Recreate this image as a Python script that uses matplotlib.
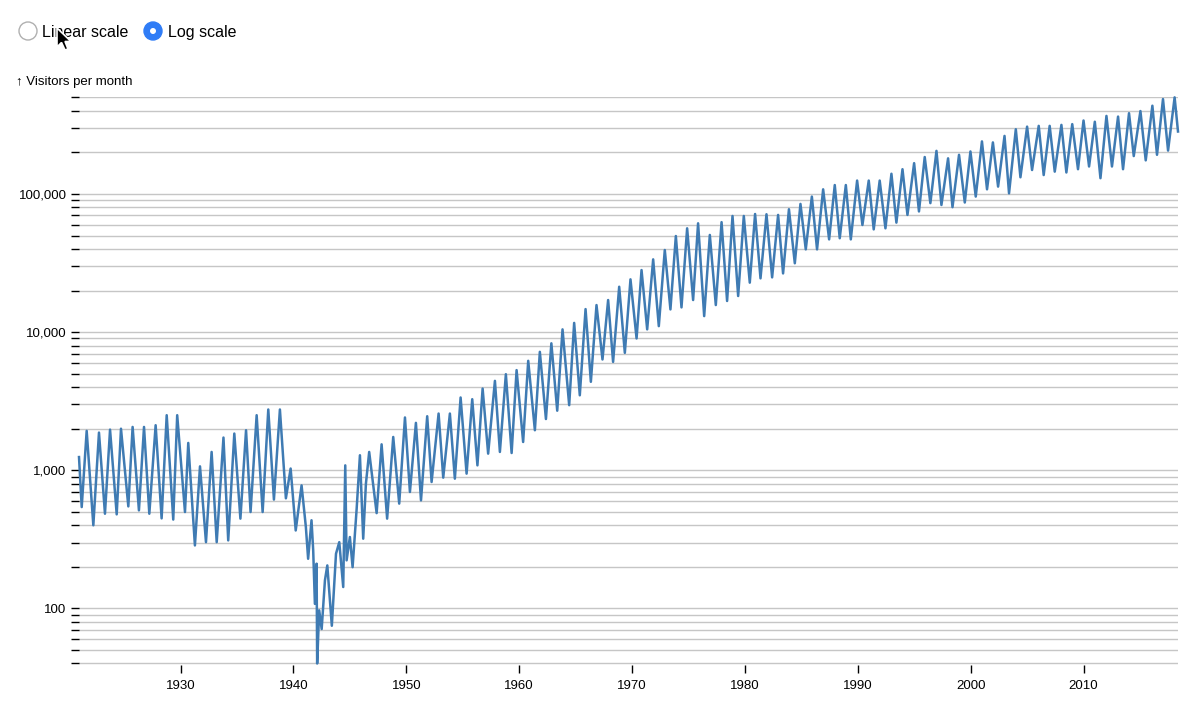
import matplotlib
matplotlib.use("Agg")
import matplotlib.pyplot as plt
from matplotlib.patches import Ellipse, Polygon
from matplotlib.ticker import LogLocator, FuncFormatter, NullFormatter, FixedLocator

dates = [
    1921.00, 1921.24, 1921.68, 1922.27, 1922.77, 1923.30, 1923.75, 1924.34, 1924.72, 1925.37,
    1925.75, 1926.31, 1926.76, 1927.23, 1927.79, 1928.32, 1928.77, 1929.35, 1929.70, 1930.39,
    1930.68, 1931.27, 1931.72, 1932.25, 1932.75, 1933.20, 1933.80, 1934.22, 1934.76, 1935.30,
    1935.80, 1936.20, 1936.74, 1937.27, 1937.77, 1938.27, 1938.80, 1939.33, 1939.75, 1940.20,
    1940.72, 1941.10, 1941.30, 1941.60, 1941.75, 1941.90, 1942.05, 1942.10, 1942.28, 1942.50,
    1942.79, 1943.00, 1943.40, 1943.77, 1944.06, 1944.41, 1944.59, 1944.71, 1945.00, 1945.24,
    1945.60, 1945.89, 1946.18, 1946.42, 1946.71, 1947.37, 1947.81, 1948.30, 1948.84, 1949.37,
    1949.88, 1950.32, 1950.85, 1951.30, 1951.85, 1952.24, 1952.86, 1953.27, 1953.86, 1954.30,
    1954.81, 1955.34, 1955.84, 1956.30, 1956.76, 1957.25, 1957.85, 1958.29, 1958.82, 1959.33,
    1959.77, 1960.35, 1960.80, 1961.39, 1961.83, 1962.37, 1962.85, 1963.37, 1963.84, 1964.43,
    1964.87, 1965.37, 1965.88, 1966.35, 1966.85, 1967.38, 1967.88, 1968.32, 1968.86, 1969.36,
    1969.86, 1970.40, 1970.84, 1971.34, 1971.87, 1972.37, 1972.90, 1973.40, 1973.88, 1974.38,
    1974.88, 1975.41, 1975.85, 1976.39, 1976.89, 1977.42, 1977.93, 1978.42, 1978.90, 1979.40,
    1979.90, 1980.43, 1980.90, 1981.38, 1981.91, 1982.41, 1982.94, 1983.38, 1983.90, 1984.42,
    1984.92, 1985.39, 1985.93, 1986.39, 1986.93, 1987.46, 1987.96, 1988.40, 1988.94, 1989.38,
    1989.94, 1990.41, 1990.97, 1991.41, 1991.94, 1992.45, 1992.98, 1993.42, 1993.96, 1994.40,
    1994.99, 1995.42, 1995.93, 1996.43, 1996.97, 1997.41, 1998.00, 1998.39, 1998.97, 1999.48,
    1999.98, 2000.45, 2001.00, 2001.45, 2001.97, 2002.43, 2003.00, 2003.40, 2004.00, 2004.41,
    2005.00, 2005.44, 2006.03, 2006.47, 2007.00, 2007.45, 2008.04, 2008.48, 2009.00, 2009.51,
    2010.00, 2010.49, 2011.00, 2011.50, 2012.03, 2012.52, 2013.06, 2013.50, 2014.03, 2014.45,
    2015.04, 2015.51, 2016.10, 2016.51, 2017.04, 2017.49, 2018.07, 2018.37,
]
visitors = [
    1247, 542, 1930, 400, 1875, 485, 1970, 480, 2000, 548,
    2060, 513, 2060, 485, 2120, 449, 2505, 440, 2505, 499,
    1578, 286, 1068, 302, 1358, 302, 1726, 311, 1845, 447,
    1950, 499, 2505, 499, 2755, 614, 2755, 627, 1030, 367,
    778, 389, 229, 435, 263, 108, 211, 40, 97, 71,
    160, 205, 75, 249, 302, 143, 1086, 223, 329, 199,
    527, 1285, 320, 800, 1358, 490, 1542, 447, 1743, 574,
    2412, 697, 2205, 606, 2462, 823, 2575, 885, 2575, 870,
    3365, 946, 3270, 1086, 3905, 1320, 4440, 1358, 4960, 1334,
    5310, 1603, 6200, 1950, 7200, 2350, 8300, 2700, 10470, 2960,
    11660, 3490, 14680, 4370, 15700, 6340, 17070, 6090, 21300, 7080,
    24100, 9000, 28130, 10470, 33620, 11050, 39300, 14600, 49600, 15100,
    56400, 17070, 61300, 13060, 50500, 15700, 62500, 16800, 69300, 18250,
    69300, 22800, 71600, 24500, 71300, 24900, 70500, 26600, 77500, 31500,
    84700, 39700, 95700, 39700, 108000, 46900, 116000, 47800, 116000, 46900,
    125000, 59600, 125000, 55400, 125000, 56400, 140000, 62000, 151000, 70500,
    167000, 74700, 185000, 85800, 205000, 83200, 181000, 80200, 192000, 86700,
    203000, 95700, 240000, 108000, 236000, 113000, 263000, 101000, 294000, 132000,
    307000, 149000, 311000, 137000, 311000, 145000, 316000, 143000, 320000, 151000,
    340000, 158000, 333000, 130000, 367000, 158000, 363000, 151000, 384000, 188000,
    398000, 175000, 435000, 192000, 486000, 206000, 500000, 283000,
]

year_ticks = [1930, 1940, 1950, 1960, 1970, 1980, 1990, 2000, 2010]
labelled = [100, 1000, 10000, 100000]

plt.rcParams['font.family'] = ['Liberation Sans', 'DejaVu Sans']

W, H = 1200, 703
fig = plt.figure(figsize=(W / 100, H / 100), dpi=100)
ax = fig.add_axes([79 / W, 1 - 665 / H, (1178 - 79) / W, (665 - 97) / H])

ax.plot(dates, visitors, color='#3f7bb3', lw=1.8, clip_on=False, zorder=3)

ax.set_yscale('log')
ax.set_ylim(39, 503000)
ax.set_xlim(dates[0], dates[-1])

ax.yaxis.set_major_locator(FixedLocator(labelled))
ax.yaxis.set_major_formatter(FuncFormatter(lambda v, p: f"{int(v):,}"))
ax.yaxis.set_minor_locator(LogLocator(base=10, subs=range(2, 10), numticks=20))
ax.yaxis.set_minor_formatter(NullFormatter())
ax.grid(True, which='both', axis='y', color='#c6c6c6', lw=1)
ax.tick_params(axis='y', which='both', length=6, width=1, color='black',
               labelsize=9.5, pad=3)

ax.set_xticks(year_ticks)
ax.set_xticklabels([str(y) for y in year_ticks])
ax.tick_params(axis='x', length=6, width=1, color='black', labelsize=9.5, pad=5)

for s in ax.spines.values():
    s.set_visible(False)

fig.text(16 / W, 1 - 80 / H, "↑ Visitors per month", fontsize=9.5, va='center_baseline')

# radio buttons
r = 9
fig.add_artist(Ellipse((28 / W, 1 - 31 / H), 2 * r / W, 2 * r / H,
                       transform=fig.transFigure, fc='white', ec='#b0b0b0', lw=1))
fig.add_artist(Ellipse((153 / W, 1 - 31 / H), 2 * r / W, 2 * r / H,
                       transform=fig.transFigure, fc='#2f7cf6', ec='#2f7cf6', lw=1))
fig.add_artist(Ellipse((153 / W, 1 - 31 / H), 6 / W, 6 / H,
                       transform=fig.transFigure, fc='white', ec='none'))
fig.text(42 / W, 1 - 31 / H, "Linear scale", fontsize=11.5, va='center_baseline')
fig.text(168 / W, 1 - 31 / H, "Log scale", fontsize=11.5, va='center_baseline')

# mouse pointer over the first radio label
tip = (57, 28)
shape = [(0, 0), (0, 19), (4.5, 14.5), (8, 22), (11, 21), (8, 13.5), (14, 13.5)]
fig.add_artist(Polygon([((tip[0] + dx) / W, 1 - (tip[1] + dy) / H) for dx, dy in shape],
                       closed=True, transform=fig.transFigure,
                       fc='black', ec='white', lw=1.2, zorder=5))

fig.savefig("out.png", dpi=100)
